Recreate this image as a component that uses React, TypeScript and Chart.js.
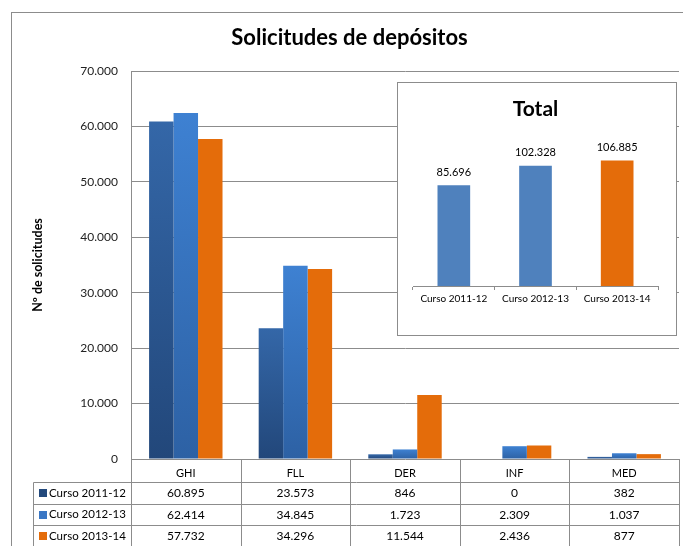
import { useEffect, useRef } from 'react';
import { Chart, registerables } from 'chart.js';
Chart.register(...registerables);

const FONT = 'Lato, "Open Sans", sans-serif';

const categories = ['GHI', 'FLL', 'DER', 'INF', 'MED'];
const seriesNames = ['Curso 2011-12', 'Curso 2012-13', 'Curso 2013-14'];
const curso201112 = [60895, 23573, 846, 0, 382];
const curso201213 = [62414, 34845, 1723, 2309, 1037];
const curso201314 = [57732, 34296, 11544, 2436, 877];
const yAxisMax = 70000;
const yAxisStep = 10000;

const totalTitle = 'Total';
const totalCategories = ['Curso 2011-12', 'Curso 2012-13', 'Curso 2013-14'];
const totalValues = [85696, 102328, 106885];

const legendColors = ['#23497c', '#3a77c4', '#e46c0a'];

function fmt(n: number): string {
  return Math.round(n).toString().replace(/\B(?=(\d{3})+(?!\d))/g, '.');
}

function grad(top: string, bottom: string) {
  return (ctx: any) => {
    const chart = ctx.chart;
    if (!chart.chartArea || ctx.type !== 'data') return bottom;
    const ys = chart.scales.y;
    const y0 = ys.getPixelForValue(ctx.raw as number);
    const y1 = ys.getPixelForValue(0);
    if (y1 - y0 < 1) return bottom;
    const g = chart.ctx.createLinearGradient(0, y0, 0, y1);
    g.addColorStop(0, top);
    g.addColorStop(1, bottom);
    return g;
  };
}

const frameTablePlugin = {
  id: 'frameTable',
  beforeDraw(chart: any) {
    const { ctx, width, height } = chart;
    ctx.save();
    ctx.fillStyle = '#ffffff';
    ctx.fillRect(0, 0, width, height);
    ctx.strokeStyle = '#8c8c8c';
    ctx.lineWidth = 1;
    ctx.strokeRect(11.5, 12.5, width + 10, height + 10);
    ctx.restore();
  },
  afterDraw(chart: any) {
    const { ctx } = chart;
    const xs = chart.scales.x;
    const left = xs.left;
    const right = xs.right;
    const n = categories.length;
    const cw = (right - left) / n;
    const top = chart.chartArea.bottom;
    const rowYs = [top + 23, top + 44.5, top + 66, top + 87.5];
    const tableLeft = 33;
    ctx.save();
    ctx.strokeStyle = '#8c8c8c';
    ctx.lineWidth = 1;
    ctx.beginPath();
    for (let i = 0; i < 3; i++) {
      const y = Math.round(rowYs[i]) + 0.5;
      ctx.moveTo(tableLeft + 0.5, y);
      ctx.lineTo(right + 0.5, y);
    }
    for (let k = 0; k <= n; k++) {
      const x = Math.round(left + k * cw) + 0.5;
      ctx.moveTo(x, top);
      ctx.lineTo(x, chart.height);
    }
    ctx.moveTo(tableLeft + 0.5, Math.round(rowYs[0]) + 0.5);
    ctx.lineTo(tableLeft + 0.5, chart.height);
    ctx.stroke();

    const rows = [curso201112, curso201213, curso201314];
    ctx.textBaseline = 'middle';
    for (let r = 0; r < 3; r++) {
      const yc = (rowYs[r] + (r < 2 ? rowYs[r + 1] : rowYs[r] + 21.5)) / 2 + 0.5;
      ctx.fillStyle = legendColors[r];
      ctx.fillRect(39, Math.round(yc - 4), 8, 8);
      ctx.fillStyle = '#000';
      ctx.textAlign = 'left';
      ctx.font = `11.5px ${FONT}`;
      ctx.fillText(seriesNames[r], 49, yc);
      ctx.textAlign = 'center';
      ctx.font = `12px ${FONT}`;
      for (let k = 0; k < n; k++) {
        ctx.fillText(fmt(rows[r][k]), left + (k + 0.5) * cw, yc);
      }
    }
    ctx.restore();
  },
};

const totalLabelsPlugin = {
  id: 'totalLabels',
  afterDatasetsDraw(chart: any) {
    const { ctx } = chart;
    const meta = chart.getDatasetMeta(0);
    ctx.save();
    ctx.font = `11px ${FONT}`;
    ctx.fillStyle = '#000';
    ctx.textAlign = 'center';
    ctx.textBaseline = 'middle';
    meta.data.forEach((bar: any, i: number) => {
      ctx.fillText(fmt(totalValues[i]), bar.x, bar.y - 13);
    });
    ctx.restore();
  },
};

export default function App() {
  const mainRef = useRef<HTMLCanvasElement>(null);
  const insetRef = useRef<HTMLCanvasElement>(null);

  useEffect(() => {
    const main = new Chart(mainRef.current!, {
      type: 'bar',
      data: {
        labels: categories,
        datasets: [
          { label: seriesNames[0], data: curso201112, backgroundColor: grad('#3467a8', '#22477a') },
          { label: seriesNames[1], data: curso201213, backgroundColor: grad('#3e81d2', '#2d61a4') },
          { label: seriesNames[2], data: curso201314, backgroundColor: '#e46c0a' },
        ],
      },
      options: {
        animation: false,
        responsive: false,
        maintainAspectRatio: false,
        datasets: { bar: { barPercentage: 1, categoryPercentage: 0.67 } },
        layout: { padding: { left: 20, right: 4, top: 0, bottom: 0 } },
        plugins: {
          legend: { display: false },
          tooltip: { enabled: false },
          title: {
            display: true,
            text: 'Solicitudes de depósitos',
            color: '#000',
            font: { family: FONT, size: 22, weight: 'bold' },
            padding: { top: 24.8, bottom: 19.8 },
          },
        },
        scales: {
          x: {
            grid: { display: false },
            border: { display: false },
            ticks: { color: '#000', font: { family: FONT, size: 11 }, padding: 0 },
            afterFit: (s: any) => { s.height = 87; },
          },
          y: {
            min: 0,
            max: yAxisMax,
            ticks: {
              stepSize: yAxisStep,
              padding: 13,
              color: '#222',
              font: { family: FONT, size: 12 },
              callback: (v: any) => fmt(Number(v)),
            },
            grid: { color: '#8c8c8c', drawTicks: false },
            border: { color: '#8c8c8c' },
            title: {
              display: true,
              text: 'Nº de solicitudes',
              color: '#000',
              font: { family: FONT, size: 12.5, weight: 'bold' },
              padding: { top: 10.5, bottom: 0 },
            },
            afterFit: (s: any) => { s.width = 111; },
          },
        },
      },
      plugins: [frameTablePlugin],
    });

    const inset = new Chart(insetRef.current!, {
      type: 'bar',
      data: {
        labels: totalCategories,
        datasets: [
          {
            label: totalTitle,
            data: totalValues,
            backgroundColor: ['#4f81bd', '#4f81bd', '#e46c0a'],
          },
        ],
      },
      options: {
        animation: false,
        responsive: false,
        maintainAspectRatio: false,
        datasets: { bar: { barPercentage: 0.4, categoryPercentage: 1 } },
        layout: { padding: { left: 15, right: 18, top: 0, bottom: 19 } },
        plugins: {
          legend: { display: false },
          tooltip: { enabled: false },
          title: {
            display: true,
            text: totalTitle,
            color: '#000',
            font: { family: FONT, size: 21, weight: 'bold' },
            padding: { top: 14, bottom: 22.8 },
          },
        },
        scales: {
          x: {
            grid: { offset: true, drawOnChartArea: false, tickLength: 4, color: '#8c8c8c' },
            border: { color: '#8c8c8c' },
            ticks: { color: '#000', font: { family: FONT, size: 10 }, padding: 3, maxRotation: 0 },
            afterFit: (s: any) => { s.height = 30; },
          },
          y: { display: false, min: 0, max: 120000 },
        },
      },
      plugins: [totalLabelsPlugin],
    });

    return () => {
      main.destroy();
      inset.destroy();
    };
  }, []);

  return (
    <div style={{ position: 'absolute', left: 0, top: 0, width: 683, height: 546, background: '#fff' }}>
      <canvas ref={mainRef} width={683} height={546} style={{ position: 'absolute', left: 0, top: 0 }} />
      <div
        style={{
          position: 'absolute',
          left: 397,
          top: 82,
          width: 280,
          height: 254,
          boxSizing: 'border-box',
          border: '1px solid #8c8c8c',
          background: '#fff',
        }}
      >
        <canvas ref={insetRef} width={278} height={252} style={{ display: 'block' }} />
      </div>
    </div>
  );
}
